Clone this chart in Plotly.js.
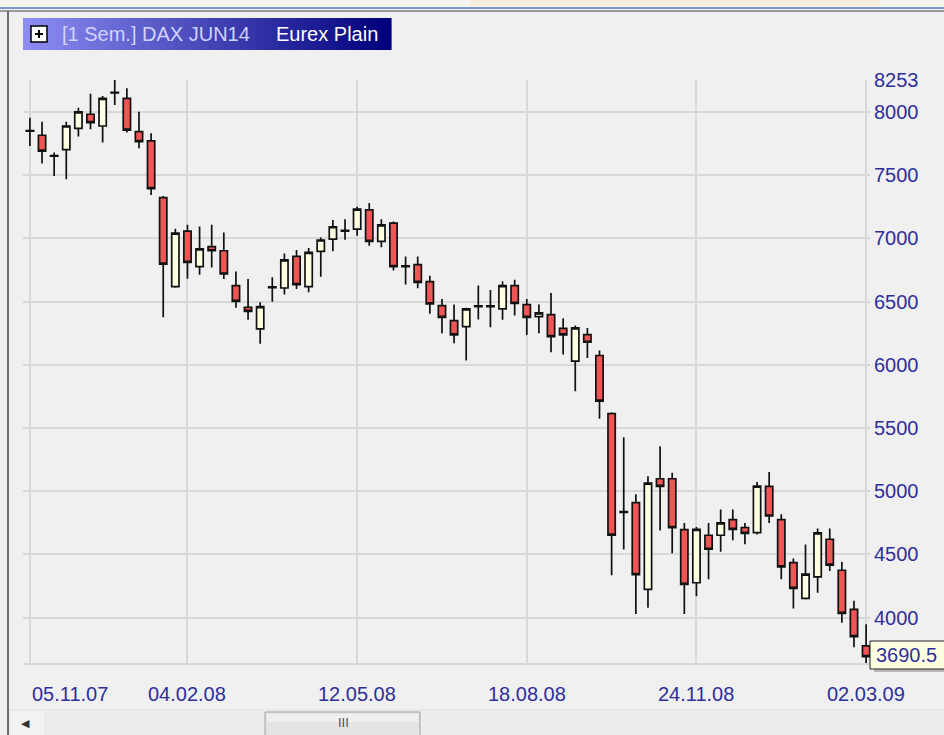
<!DOCTYPE html>
<html>
<head>
<meta charset="utf-8">
<script src="https://cdn.plot.ly/plotly-3.0.1.min.js"></script>
<style>
  html, body { margin: 0; padding: 0; background: #F0F0F0; }
  #chart { width: 944px; height: 735px; }
</style>
</head>
<body>
<div id="chart"></div>
<script>
// ---- DATA (weekly candles, DAX) ----
const dates = [
  '2007-11-05','2007-11-12','2007-11-19','2007-11-26','2007-12-03','2007-12-10','2007-12-17','2007-12-24','2007-12-31',
  '2008-01-07','2008-01-14','2008-01-21','2008-01-28','2008-02-04','2008-02-11','2008-02-18','2008-02-25',
  '2008-03-03','2008-03-10','2008-03-17','2008-03-24','2008-03-31','2008-04-07','2008-04-14','2008-04-21','2008-04-28',
  '2008-05-05','2008-05-12','2008-05-19','2008-05-26','2008-06-02','2008-06-09','2008-06-16','2008-06-23','2008-06-30',
  '2008-07-07','2008-07-14','2008-07-21','2008-07-28','2008-08-04','2008-08-11','2008-08-18','2008-08-25',
  '2008-09-01','2008-09-08','2008-09-15','2008-09-22','2008-09-29','2008-10-06','2008-10-13','2008-10-20','2008-10-27',
  '2008-11-03','2008-11-10','2008-11-17','2008-11-24','2008-12-01','2008-12-08','2008-12-15','2008-12-22','2008-12-29',
  '2009-01-05','2009-01-12','2009-01-19','2009-01-26','2009-02-02','2009-02-09','2009-02-16','2009-02-23','2009-03-02'
];
const openV = [
  7848,7816,7655,7702,7871,7982,7889,8150,8108,
  7844,7771,7323,6618,7058,6776,6934,6902,
  6626,6455,6284,6610,6607,6857,6618,6897,6994,
  7057,7073,7226,6976,7121,6782,6792,6657,6468,
  6349,6302,6460,6466,6442,6626,6476,6381,
  6397,6288,6028,6239,6073,5613,4838,4909,4222,
  5098,5098,4696,4275,4651,4651,4775,4712,4672,
  5038,4775,4435,4151,4322,4619,4374,4064,3775
];
const highV = [
  7955,7923,7679,7923,8034,8145,8126,8253,8188,
  8002,7832,7336,7076,7107,7094,7108,7047,
  6738,6679,6494,6692,6881,6908,6923,7007,7145,
  7152,7250,7279,7152,7134,6857,6857,6705,6520,
  6476,6450,6626,6592,6661,6673,6520,6476,
  6568,6367,6310,6291,6112,5625,5427,4975,5117,
  5356,5146,4748,4717,4748,4854,4854,4748,5072,
  5152,4817,4467,4578,4704,4704,4440,4132,3946
];
const lowV = [
  7731,7592,7494,7468,7805,7863,7758,8055,7837,
  7713,7344,6375,6610,6681,6712,6770,6679,
  6450,6355,6166,6499,6555,6600,6573,6697,6897,
  6989,7021,6941,6929,6745,6634,6605,6403,6250,
  6171,6034,6357,6297,6355,6389,6236,6250,
  6099,6081,5791,6054,5573,4335,4538,4027,4077,
  4689,4508,4027,4169,4303,4520,4611,4580,4657,
  4748,4303,4072,4143,4196,4367,3959,3764,3640
];
const closeV = [
  7852,7690,7650,7889,8000,7916,8108,8156,7856,
  7765,7394,6796,7042,6810,6916,6902,6718,
  6502,6423,6460,6616,6829,6634,6889,6987,7092,
  7063,7231,6976,7107,6776,6776,6652,6481,6375,
  6236,6442,6466,6460,6626,6486,6375,6410,
  6223,6236,6291,6178,5712,4652,4832,4340,5064,
  5038,4711,4262,4698,4540,4748,4698,4665,5040,
  4803,4401,4230,4343,4669,4414,4033,3848,3690.5
];
const yTickVals = [3640,4000,4500,5000,5500,6000,6500,7000,7500,8000,8253];
const yTickText = ['','4000','4500','5000','5500','6000','6500','7000','7500','8000','8253'];
const xTickVals = ['2007-11-05','2008-02-04','2008-05-12','2008-08-18','2008-11-24','2009-03-02'];
const xTickText = ['05.11.07','04.02.08','12.05.08','18.08.08','24.11.08','02.03.09'];
const chartTitle = '[1 Sem.] DAX JUN14';
const chartSource = 'Eurex Plain';
const lastLabel = '3690.5';

// ---- LAYOUT HELPERS (pixel -> paper) ----
const L = 23, R = 870, T = 80, B = 663, W = 944, H = 735;
const px = x => (x - L) / (R - L);
const py = y => (B - y) / (B - T);
const FONT = 'Liberation Sans, Arial, sans-serif';
const LABEL_COLOR = '#2E2E9C';
const FS = 20;

const shapes = [];
function rect(x0, y0, x1, y1, fill, line, lw) {
  shapes.push({type: 'rect', xref: 'paper', yref: 'paper', layer: 'above',
    x0: px(x0), x1: px(x1), y0: py(y1), y1: py(y0),
    fillcolor: fill, line: {color: line || fill, width: lw === undefined ? 0 : lw}});
}
function line(x0, y0, x1, y1, color, lw) {
  shapes.push({type: 'line', xref: 'paper', yref: 'paper', layer: 'above',
    x0: px(x0), x1: px(x1), y0: py(y0), y1: py(y1), line: {color: color, width: lw}});
}

// window chrome (top band, borders)
rect(0, 0, W, 7, '#F6F4EE');
rect(470, 0, 880, 7, '#F7EEDD');
line(0, 8, W, 8, '#7C9CC8', 2);
line(0, 11, W, 11, '#9A9A9A', 2);
line(8, 11, 8, H, '#6E6E6E', 2);

// title box gradient
const gx0 = 23, gx1 = 391, steps = 46;
const c0 = [0x8C, 0x8C, 0xF2], c1 = [0x00, 0x00, 0x7C];
for (let i = 0; i < steps; i++) {
  const t = i / (steps - 1);
  const c = c0.map((v, k) => Math.round(v + (c1[k] - v) * t));
  const xa = gx0 + (gx1 - gx0) * i / steps, xb = gx0 + (gx1 - gx0) * (i + 1) / steps + 0.6;
  rect(xa, 18, xb, 50, 'rgb(' + c.join(',') + ')');
}
// plus icon
rect(31, 26, 47, 42, '#FFFFFF', '#000000', 1.5);
line(35, 34, 43, 34, '#000000', 2);
line(39, 30, 39, 38, '#000000', 2);

// scrollbar
rect(9, 710, W, H, '#ECECEC');
line(9, 710, W, 710, '#E2E2E2', 1);
rect(11, 711, 44, H, '#F3F3F3');
rect(265, 712, 420, H + 2, '#E4E4E4', '#A2A2A2', 1);
rect(267, 714, 418, 722, '#F0F0F0');

// last-price label box (shadow + box)
rect(874, 644, W + 4, 672, '#B8B8B8');
rect(870, 641, W + 2, 669, '#FFFFE1', '#202020', 1);

const annotations = [];
annotations.push({xref: 'paper', yref: 'paper', x: px(60), y: py(34), xanchor: 'left', yanchor: 'middle',
  text: chartTitle, showarrow: false, font: {family: FONT, size: FS, color: '#D2D2FF'}});
annotations.push({xref: 'paper', yref: 'paper', x: px(274), y: py(34), xanchor: 'left', yanchor: 'middle',
  text: chartSource, showarrow: false, font: {family: FONT, size: FS, color: '#FFFFFF'}});
annotations.push({xref: 'paper', yref: 'paper', x: px(874), y: py(655), xanchor: 'left', yanchor: 'middle',
  text: lastLabel, showarrow: false, font: {family: FONT, size: FS, color: LABEL_COLOR}});
annotations.push({xref: 'paper', yref: 'paper', x: px(343), y: py(722), xanchor: 'center', yanchor: 'middle',
  text: 'III', showarrow: false, font: {family: FONT, size: 13, color: '#555555'}});
annotations.push({xref: 'paper', yref: 'paper', x: px(25), y: py(723), xanchor: 'center', yanchor: 'middle',
  text: '◀', showarrow: false, font: {family: 'DejaVu Sans', size: 11, color: '#333333'}});
xTickVals.forEach((d, i) => {
  annotations.push({xref: 'x', yref: 'paper', x: d, y: py(694), xanchor: i === 0 ? 'left' : 'center',
    yanchor: 'middle', text: xTickText[i], showarrow: false,
    font: {family: FONT, size: FS, color: LABEL_COLOR}});
});

const data = [{
  type: 'candlestick',
  x: dates, open: openV, high: highV, low: lowV, close: closeV,
  whiskerwidth: 0,
  increasing: {line: {color: '#111111', width: 1.7}, fillcolor: '#FFFFE2'},
  decreasing: {line: {color: '#111111', width: 1.7}, fillcolor: '#EE5656'},
  hoverinfo: 'skip'
}];

const layout = {
  width: W, height: H,
  margin: {l: L, r: W - R, t: T, b: H - B, pad: 0},
  paper_bgcolor: '#F0F0F0', plot_bgcolor: '#F0F0F0',
  showlegend: false,
  boxgap: 0.2, boxgroupgap: 0.25,
  xaxis: {
    type: 'date', range: ['2007-11-01', '2009-03-04 06:00'],
    tickvals: xTickVals, showticklabels: false, ticks: '',
    showgrid: true, gridcolor: '#D8D8D8', gridwidth: 2,
    showline: true, linecolor: '#D8D8D8', linewidth: 2,
    zeroline: false, rangeslider: {visible: false}, fixedrange: true
  },
  yaxis: {
    side: 'right', range: [3640, 8253],
    tickvals: yTickVals, ticktext: yTickText, ticks: '',
    ticklabelstandoff: 3,
    tickfont: {family: FONT, size: FS, color: LABEL_COLOR},
    showgrid: true, gridcolor: '#D8D8D8', gridwidth: 2,
    zeroline: false, showline: false, fixedrange: true
  },
  shapes: shapes,
  annotations: annotations
};

Plotly.newPlot('chart', data, layout, {displayModeBar: false, staticPlot: true});
</script>
</body>
</html>
